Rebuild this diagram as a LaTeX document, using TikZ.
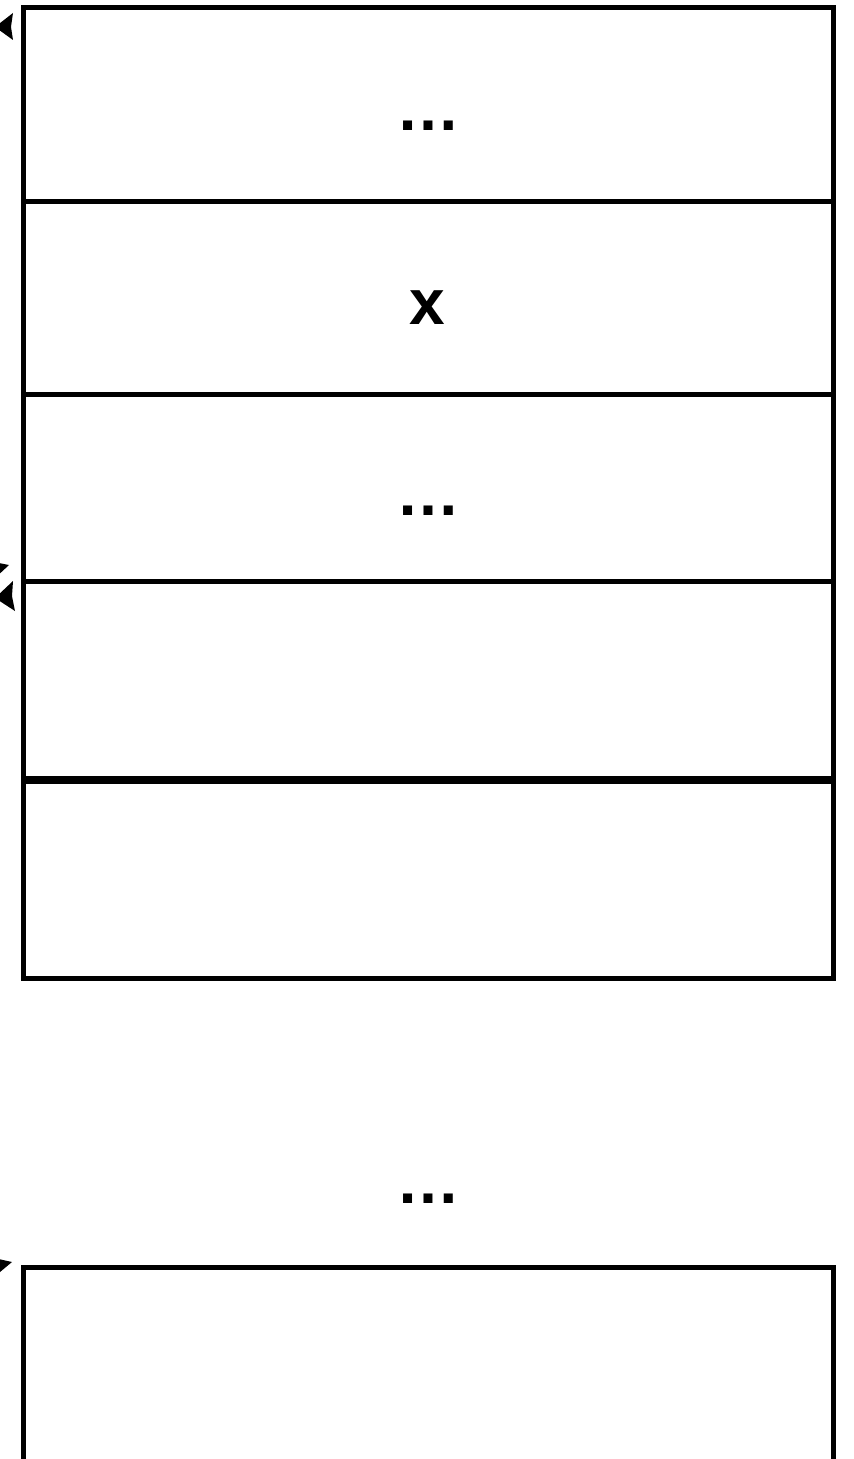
\documentclass[tikz,border=0pt]{standalone}
\usepackage{fontspec}
\setmainfont{Liberation Sans}
\usetikzlibrary{fit}
\tikzset{
  rowbox/.style={draw=black, line width=2.5pt, inner sep=0pt, fill=white},
  lbl/.style={font=\bfseries\fontsize{32}{38}\selectfont, inner sep=0pt, anchor=base},
  tiphead/.style={fill=black, draw=none}
}
\begin{document}
\begin{tikzpicture}[x=0.5pt, y=-0.5pt]
\useasboundingbox (0,0) rectangle (853,1459);
\clip (0,0) rectangle (853,1459);
\fill[white] (0,0) rectangle (853,1459);
% rows
\node[rowbox, fit={(23,8)(833,202)}] (r1) {};
\node[rowbox, fit={(23,202)(833,395)}] (r2) {};
\node[rowbox, fit={(23,395)(833,581)}] (r3) {};
\node[rowbox, fit={(23,581)(833,778.5)}] (r4) {};
\node[rowbox, fit={(23,781)(833,978)}] (r5) {};
\node[rowbox, fit={(23,1267)(833,1520)}] (r6) {};
% labels
\node[lbl] (t1) at (428,131) {…};
\node[lbl] (t2) at (427,325) {x};
\node[lbl] (t3) at (428,516) {…};
\node[lbl] (t4) at (428,1203) {…};
% arrowheads cut by the left margin
\fill[tiphead] (13,13) -- (-5,27) -- (13,40) -- (11,27) -- cycle;
\fill[tiphead] (-6,562) -- (9,565) -- (-6,579) -- cycle;
\fill[tiphead] (13,581) -- (-5,598) -- (15,611) -- (12,596) -- cycle;
\fill[tiphead] (-6,1258) -- (12,1262) -- (-6,1277) -- cycle;
\end{tikzpicture}
\end{document}
